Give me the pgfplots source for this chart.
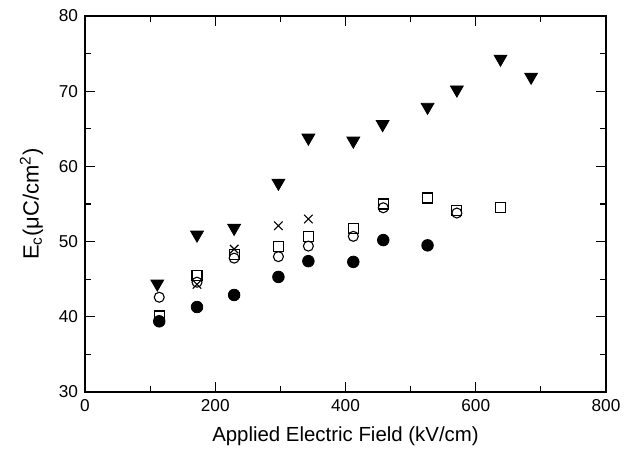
\documentclass[border=0pt]{standalone}
\usepackage{fontspec}
\setmainfont{Liberation Sans}
\usepackage{pgfplots}
\pgfplotsset{compat=1.18}
\usetikzlibrary{calc}

\begin{document}
\begin{tikzpicture}
\begin{axis}[
    scale only axis,
    width=260.5pt, height=188pt,
    xmin=0, xmax=800, ymin=30, ymax=80,
    xtick={0,200,...,800}, ytick={30,40,...,80},
    minor x tick num=1, minor y tick num=1,
    tick align=inside,
    major tick length=5pt, minor tick length=3pt,
    axis line style={line width=0.7pt},
    every tick/.style={black, line width=0.6pt},
    tick label style={font=\fontsize{8.6}{10}\selectfont},
    /pgf/number format/assume math mode=true,
    xlabel={Applied Electric Field (kV/cm)},
    ylabel={E\textsubscript{c}(μC/cm\textsuperscript{2})},
    xlabel style={font=\fontsize{10.2}{12}\selectfont, yshift=-1pt},
    ylabel style={font=\fontsize{11}{13}\selectfont, yshift=1pt},
]
% filled down triangles
\addplot[only marks, mark=triangle*, mark options={rotate=180, fill=black}, mark size=3.7pt, black] coordinates {
    (111,44.4) (172,50.9) (229,51.8) (297,57.8) (343,63.8) (412,63.4)
    (457,65.6) (526,67.9) (571,70.2) (638,74.3) (685,71.9)
};
% filled circles
\addplot[only marks, mark=*, mark size=2.9pt, black] coordinates {
    (114,39.4) (172,41.3) (229,42.9) (297,45.3) (343,47.4) (412,47.3)
    (458,50.2) (526,49.5)
};
% open circles
\addplot[only marks, mark=o, mark size=2.5pt, black, line width=0.55pt] coordinates {
    (114,42.6) (172,44.6) (229,47.8) (297,48.0) (343,49.4) (412,50.7)
    (458,54.5) (571,53.8)
};
% open squares
\addplot[only marks, mark=square, mark size=2.5pt, black, line width=0.55pt] coordinates {
    (114,40.1) (172,45.5) (229,48.3) (297,49.4) (343,50.7) (412,51.7)
    (458,55.0) (526,55.8) (571,54.1) (638,54.5)
};
% crosses
\addplot[only marks, mark=x, mark size=3pt, black, line width=0.55pt] coordinates {
    (172,44.3) (229,49.0) (297,52.1) (343,53.0)
};
\end{axis}
\path ($(current axis.south west)+(-42.5pt,-30.5pt)$) rectangle ($(current axis.north east)+(16pt,8pt)$);
\end{tikzpicture}
\end{document}
